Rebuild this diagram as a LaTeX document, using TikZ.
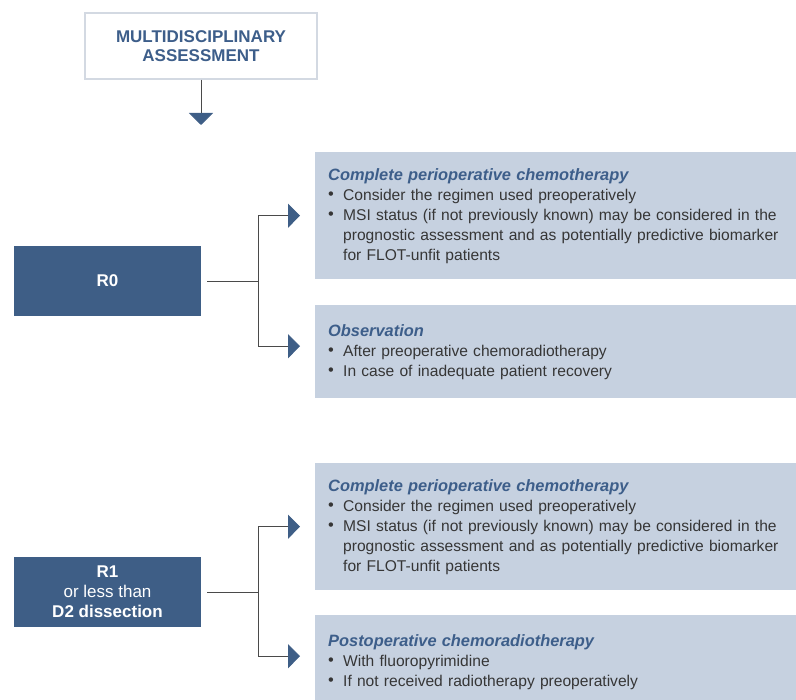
\documentclass[tikz,border=0pt]{standalone}
\usepackage{xcolor}
\usepackage{graphicx}
\usepackage{fontspec}
\setmainfont{Liberation Sans}
\usetikzlibrary{arrows.meta,positioning}

\definecolor{darkbox}{HTML}{3E5E86}
\definecolor{lightbox}{HTML}{C6D1E0}
\definecolor{titleblue}{HTML}{3D5E8A}
\definecolor{bodygrey}{HTML}{363636}
\definecolor{linegrey}{HTML}{4A4A4A}
\definecolor{framegrey}{HTML}{D3D9E2}

\newcommand{\itm}{\makebox[15pt][l]{\raisebox{0.3pt}{\scalebox{1.05}{\textbullet}}}}
\newcommand{\cont}{\hspace*{15pt}}
\newcommand{\head}[1]{{\fontsize{16.4}{20}\selectfont\bfseries\itshape\color{titleblue}#1}}

\begin{document}
\begin{tikzpicture}[x=1pt, y=-1pt,
    mainbox/.style={rectangle, draw=framegrey, line width=1.5pt, fill=white,
        minimum width=232pt, minimum height=66pt, align=center,
        text=titleblue, font=\fontsize{17}{19.5}\selectfont\bfseries},
    result/.style={rectangle, fill=darkbox, minimum width=187pt, minimum height=70pt,
        align=center, text=white, font=\fontsize{17}{20}\selectfont},
    option/.style={rectangle, fill=lightbox, anchor=north west, text width=470pt,
        inner xsep=13pt, align=left, text=bodygrey, font=\fontsize{15.6}{20}\selectfont},
    conn/.style={draw=linegrey, line width=0.9pt},
    tip/.style={-{Triangle[length=12pt, width=24pt, color=darkbox]}}]

    \useasboundingbox (0,0) rectangle (796,700);

    % Assessment
    \node (assess) [mainbox] at (201,46) {MULTIDISCIPLINARY\\ASSESSMENT};
    \coordinate (down) at (201,125);

    % Resection R0
    \node (r0) [result] at (107.5,281) {\bfseries R0};
    \node (chemoA) [option, minimum height=127pt] at (315,152) {\head{Complete perioperative chemotherapy}\\
        \itm Consider the regimen used preoperatively\\
        \itm MSI status (if not previously known) may be considered in the\\
        \cont prognostic assessment and as potentially predictive biomarker\\
        \cont for FLOT-unfit patients};
    \node (obs) [option, minimum height=93pt] at (315,305) {\head{Observation}\\
        \itm After preoperative chemoradiotherapy\\
        \itm In case of inadequate patient recovery};

    % Resection R1
    \node (r1) [result] at (107.5,592) {\textbf{R1}\\or less than\\\textbf{D2 dissection}};
    \node (chemoB) [option, minimum height=127pt] at (315,463) {\head{Complete perioperative chemotherapy}\\
        \itm Consider the regimen used preoperatively\\
        \itm MSI status (if not previously known) may be considered in the\\
        \cont prognostic assessment and as potentially predictive biomarker\\
        \cont for FLOT-unfit patients};
    \node (crt) [option, minimum height=93pt] at (315,615) {\head{Postoperative chemoradiotherapy}\\
        \itm With fluoropyrimidine\\
        \itm If not received radiotherapy preoperatively};

    % Arrows
    \draw[conn, tip] (assess) -- (down);
    \draw[conn] ([xshift=6pt]r0.east) -- ++(51,0) coordinate (forkA);
    \draw[conn, tip] (forkA) |- ([xshift=-15pt]chemoA.west);
    \draw[conn, tip] (forkA) |- ([xshift=-15pt, yshift=5.5pt]obs.west);
    \draw[conn] ([xshift=6pt]r1.east) -- ++(51,0) coordinate (forkB);
    \draw[conn, tip] (forkB) |- ([xshift=-15pt]chemoB.west);
    \draw[conn, tip] (forkB) |- ([xshift=-15pt, yshift=5.5pt]crt.west);
\end{tikzpicture}
\end{document}
